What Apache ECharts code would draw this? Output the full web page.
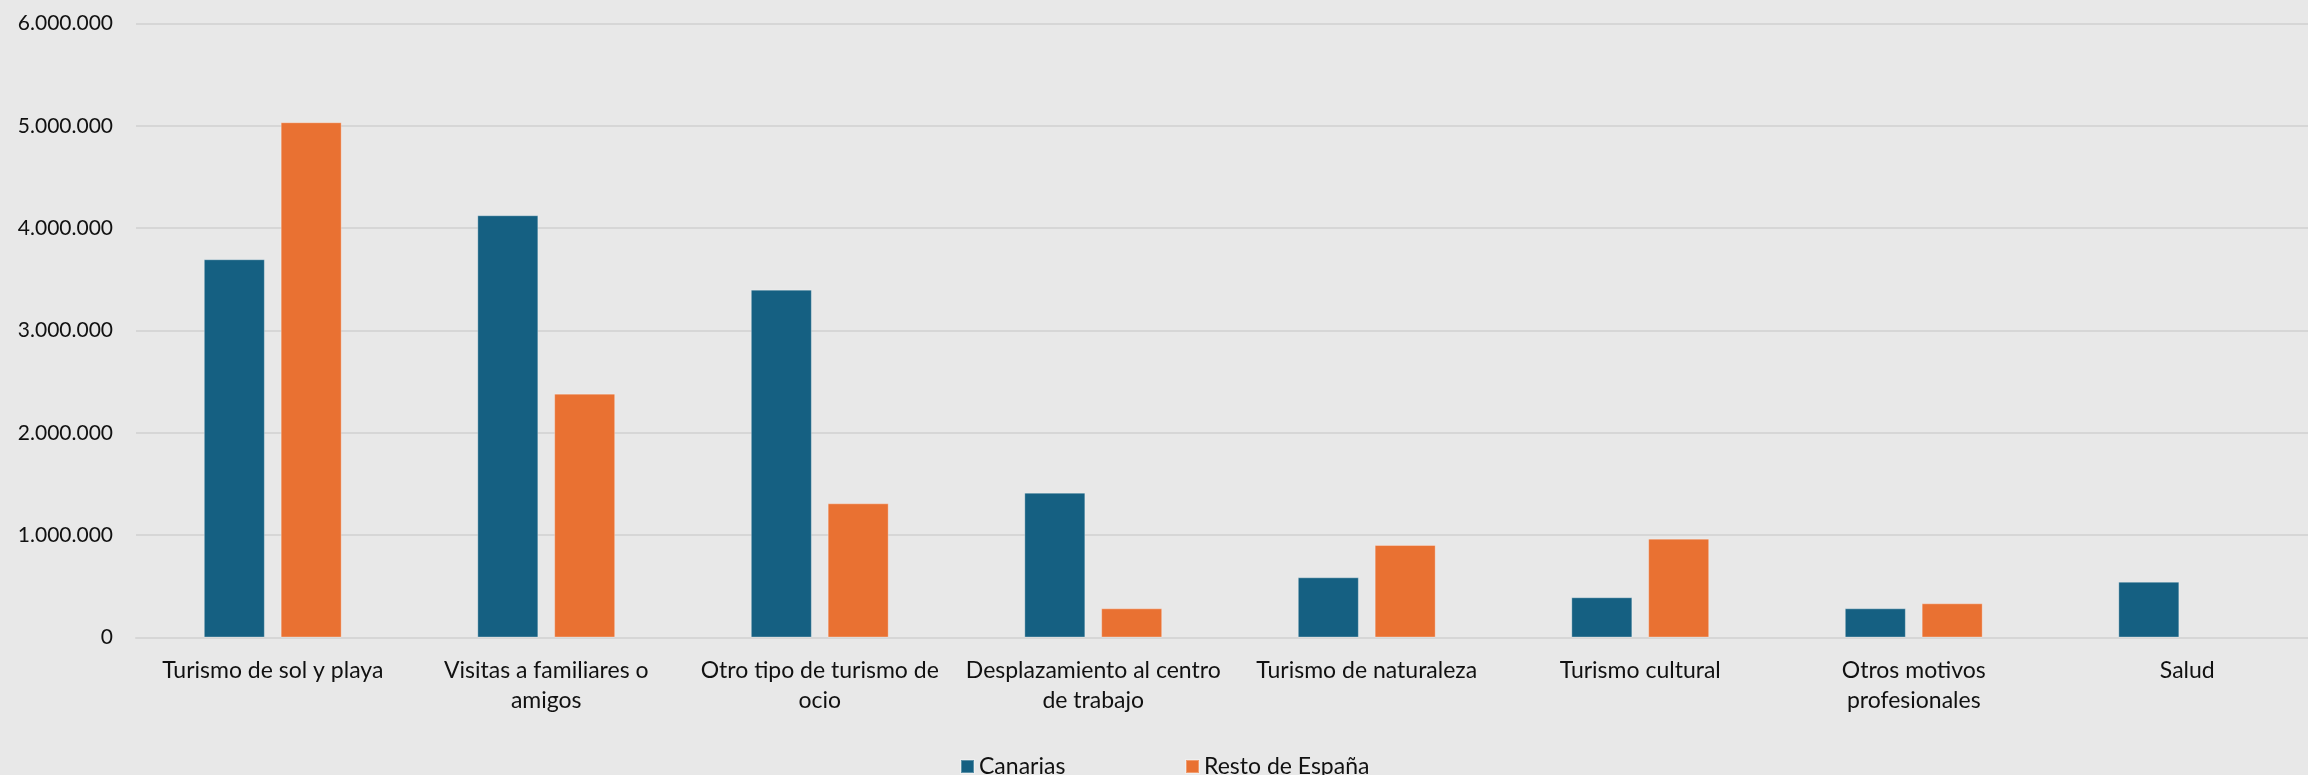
<!DOCTYPE html>
<html>
<head>
<meta charset="utf-8">
<script src="https://cdn.jsdelivr.net/npm/echarts@6/dist/echarts.min.js"></script>
<style>
html,body{margin:0;padding:0;background:#E8E8E8;overflow:hidden;}
#chart{width:2324px;height:775px;}
</style>
</head>
<body>
<div id="chart"></div>
<script>
const categories = [
  'Turismo de sol y playa',
  'Visitas a familiares o\namigos',
  'Otro tipo de turismo de\nocio',
  'Desplazamiento al centro\nde trabajo',
  'Turismo de naturaleza',
  'Turismo cultural',
  'Otros motivos\nprofesionales',
  'Salud'
];
const canarias = [3696000, 4126000, 3399000, 1415000, 588000, 393000, 285000, 545000];
const restoEspana = [5035000, 2383000, 1311000, 285000, 904000, 966000, 334000, null];
const seriesNames = ['Canarias', 'Resto de España'];
const yMin = 0, yMax = 6000000, yStep = 1000000;

const FONT = 'Lato';
const TXT = '#111111';

function fmt(v) {
  return String(Math.round(v)).replace(/\B(?=(\d{3})+(?!\d))/g, '.');
}

const chart = echarts.init(document.getElementById('chart'), null, {renderer: 'canvas'});
chart.setOption({
  backgroundColor: '#E8E8E8',
  animation: false,
  textStyle: {fontFamily: FONT},
  grid: {left: 136, top: 23.5, right: 0, height: 614, outerBoundsMode: 'none', containLabel: false},
  legend: [
    {
      data: [seriesNames[0]], left: 955, top: 750, icon: 'rect',
      itemWidth: 13, itemHeight: 13,
      textStyle: {fontFamily: FONT, fontSize: 23, color: TXT}
    },
    {
      data: [seriesNames[1]], left: 1180, top: 750, icon: 'rect',
      itemWidth: 13, itemHeight: 13,
      textStyle: {fontFamily: FONT, fontSize: 23, color: TXT}
    }
  ],
  xAxis: {
    type: 'category',
    data: categories,
    axisLine: {show: true, lineStyle: {color: '#D6D6D6', width: 2}},
    axisTick: {show: false},
    axisLabel: {
      interval: 0, margin: 18, fontFamily: FONT, fontSize: 23, color: TXT,
      lineHeight: 30, align: 'center'
    }
  },
  yAxis: {
    type: 'value', min: yMin, max: yMax, interval: yStep,
    axisLine: {show: false}, axisTick: {show: false},
    splitLine: {lineStyle: {color: '#D6D6D6', width: 2}},
    axisLabel: {
      margin: 23, fontFamily: FONT, fontSize: 21, color: TXT,
      formatter: fmt
    }
  },
  series: [
    {
      name: seriesNames[0], type: 'bar', data: canarias,
      barWidth: 61, barGap: '26%',
      itemStyle: {color: '#156082', borderColor: 'rgba(255,255,255,0.3)', borderWidth: 1}
    },
    {
      name: seriesNames[1], type: 'bar', data: restoEspana,
      barWidth: 61, barGap: '26%',
      itemStyle: {color: '#E97132', borderColor: 'rgba(255,255,255,0.3)', borderWidth: 1}
    }
  ]
});
</script>
</body>
</html>
